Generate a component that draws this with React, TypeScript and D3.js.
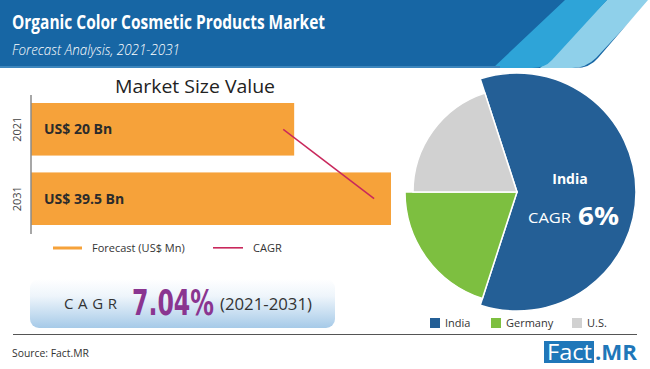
import React, { useEffect, useRef } from "react";
import { select, scaleBand, scaleLinear, pie, arc, line } from "d3";

// market size bars (US$ Bn)
const years = ["2021", "2031"];
const marketValues = [20, 39.5];
const barLabels = ["US$ 20 Bn", "US$ 39.5 Bn"];
const cagrLine = [17.8, 36.1];

// regional split
const regions = ["India", "Germany", "U.S."];
const regionShares = [60, 20, 20];
const regionRadius = [119, 112, 104];
const regionColors = ["#245f96", "#7dbf40", "#d1d1d1"];

const width = 650;
const height = 369;
const font = "'Open Sans', 'Noto Sans', sans-serif";

function App() {
  const svgRef = useRef(null);

  useEffect(() => {
    const svg = select(svgRef.current);
    svg.selectAll("*").remove();

    const defs = svg.append("defs");
    const grad = defs.append("linearGradient")
      .attr("id", "cagrGrad").attr("x1", 0).attr("y1", 0).attr("x2", 0).attr("y2", 1);
    grad.append("stop").attr("offset", "0%").attr("stop-color", "#ffffff");
    grad.append("stop").attr("offset", "35%").attr("stop-color", "#eef5fb");
    grad.append("stop").attr("offset", "100%").attr("stop-color", "#a6cae8");

    // header band
    svg.append("rect").attr("x", 0).attr("y", 0).attr("width", width).attr("height", 68).attr("fill", "#1766a4");
    svg.append("path")
      .attr("d", "M607,0 L650,0 L650,0 L596,58 Q586,68 572,68 L540,68 Z")
      .attr("fill", "#8fd0ea");
    svg.append("path")
      .attr("d", "M565,0 L607,0 L552,60 Q545,68 532,68 L493,68 Z")
      .attr("fill", "#2ea4d8");
    svg.append("path")
      .attr("d", "M650,0 L650,68 L575,68 Q590,68 598,58 L648,0 Z")
      .attr("fill", "#ffffff");
    svg.append("rect").attr("x", 0).attr("y", 66).attr("width", 500).attr("height", 2).attr("fill", "#3d86bd");

    svg.append("text")
      .attr("x", 12).attr("y", 29)
      .attr("font-family", font).attr("font-weight", 700).attr("font-size", 19)
      .attr("fill", "#fff")
      .attr("textLength", 313).attr("lengthAdjust", "spacingAndGlyphs")
      .text("Organic Color Cosmetic Products Market");
    svg.append("text")
      .attr("x", 12).attr("y", 55)
      .attr("font-family", font).attr("font-style", "italic").attr("font-weight", 300).attr("font-size", 14)
      .attr("fill", "#fff")
      .attr("textLength", 168).attr("lengthAdjust", "spacingAndGlyphs")
      .text("Forecast Analysis, 2021-2031");

    // bar chart
    svg.append("text")
      .attr("x", 195).attr("y", 93).attr("text-anchor", "middle")
      .attr("font-family", font).attr("font-size", 18).attr("fill", "#222")
      .attr("textLength", 160).attr("lengthAdjust", "spacingAndGlyphs")
      .text("Market Size Value");

    const yScale = scaleBand().domain(years).range([103, 225]).paddingInner(0.243).paddingOuter(0);
    const xScale = scaleLinear().domain([-33, 39.5]).range([31, 391]);

    svg.append("g").selectAll("rect")
      .data(marketValues)
      .join("rect")
      .attr("x", xScale(-33))
      .attr("y", (d, i) => yScale(years[i]))
      .attr("width", d => xScale(d) - xScale(-33))
      .attr("height", yScale.bandwidth())
      .attr("fill", "#f6a23a");

    svg.append("line")
      .attr("x1", 31).attr("x2", 31).attr("y1", 95).attr("y2", 234)
      .attr("stroke", "#8a8a8a").attr("stroke-width", 1.5);

    svg.append("g").selectAll("text")
      .data(years)
      .join("text")
      .attr("transform", d => `translate(21,${yScale(d) + yScale.bandwidth() / 2}) rotate(-90)`)
      .attr("text-anchor", "middle")
      .attr("font-family", font).attr("font-size", 11).attr("fill", "#444")
      .text(d => d);

    svg.append("g").selectAll("text")
      .data(barLabels)
      .join("text")
      .attr("x", 44)
      .attr("y", (d, i) => yScale(years[i]) + yScale.bandwidth() / 2 + 5)
      .attr("font-family", font).attr("font-weight", 700).attr("font-size", 14).attr("fill", "#2b2b2b")
      .text(d => d);

    const cagrPath = line()
      .x(d => xScale(d[0]))
      .y(d => yScale(d[1]) + yScale.bandwidth() / 2);
    svg.append("path")
      .attr("d", cagrPath(cagrLine.map((v, i) => [v, years[i]])))
      .attr("fill", "none").attr("stroke", "#c9285c").attr("stroke-width", 1.5);

    // legend
    svg.append("rect").attr("x", 53).attr("y", 246.5).attr("width", 29).attr("height", 3).attr("fill", "#f6a23a");
    svg.append("text").attr("x", 92).attr("y", 252)
      .attr("font-family", font).attr("font-size", 11).attr("fill", "#333")
      .text("Forecast (US$ Mn)");
    svg.append("rect").attr("x", 213).attr("y", 247).attr("width", 30).attr("height", 1.6).attr("fill", "#c9285c");
    svg.append("text").attr("x", 253).attr("y", 252)
      .attr("font-family", font).attr("font-size", 11).attr("fill", "#333")
      .text("CAGR");

    // CAGR box
    svg.append("rect")
      .attr("x", 30).attr("y", 279).attr("width", 305).attr("height", 49).attr("rx", 9)
      .attr("fill", "url(#cagrGrad)");
    svg.append("text").attr("x", 64).attr("y", 309)
      .attr("font-family", font).attr("font-size", 15).attr("fill", "#333")
      .attr("textLength", 53).attr("lengthAdjust", "spacing")
      .text("CAGR");
    // condensed big number: squeeze horizontally with a transform
    const big = svg.append("text")
      .attr("x", 0).attr("y", 0)
      .attr("font-family", "'DejaVu Sans Condensed', 'DejaVu Sans', sans-serif").attr("font-weight", 700)
      .attr("font-size", 36).attr("fill", "#8a3590")
      .text("7.04%");
    const bigW = big.node().getComputedTextLength() || 112;
    big.attr("transform", `translate(132,315) scale(${82 / bigW},1)`);
    svg.append("text").attr("x", 220).attr("y", 310)
      .attr("font-family", font).attr("font-size", 17).attr("fill", "#333")
      .attr("textLength", 92).attr("lengthAdjust", "spacingAndGlyphs")
      .text("(2021-2031)");

    // separator + source
    svg.append("line").attr("x1", 13).attr("x2", 637).attr("y1", 334.5).attr("y2", 334.5)
      .attr("stroke", "#555").attr("stroke-width", 1);
    svg.append("text").attr("x", 12).attr("y", 357)
      .attr("font-family", font).attr("font-size", 11).attr("fill", "#333")
      .attr("textLength", 77).attr("lengthAdjust", "spacingAndGlyphs")
      .text("Source: Fact.MR");

    // Fact.MR logo
    svg.append("rect").attr("x", 544).attr("y", 341).attr("width", 50).attr("height", 22).attr("fill", "#1f77b9");
    svg.append("text").attr("x", 547).attr("y", 360)
      .attr("font-family", font).attr("font-size", 21).attr("fill", "#fff")
      .attr("textLength", 45).attr("lengthAdjust", "spacingAndGlyphs")
      .text("Fact");
    svg.append("text").attr("x", 595).attr("y", 360)
      .attr("font-family", font).attr("font-weight", 700).attr("font-size", 21).attr("fill", "#1f77b9")
      .attr("textLength", 42).attr("lengthAdjust", "spacingAndGlyphs")
      .text(".MR");

    // pie
    const startAngle = -18 * Math.PI / 180;
    const pieGen = pie().sort(null).startAngle(startAngle).endAngle(startAngle + 2 * Math.PI);
    const slices = pieGen(regionShares);
    const pieG = svg.append("g").attr("transform", "translate(517,192)");
    pieG.selectAll("path")
      .data(slices)
      .join("path")
      .attr("d", (d, i) => arc().innerRadius(0).outerRadius(regionRadius[i])(d))
      .attr("fill", (d, i) => regionColors[i])
      .attr("stroke", "#fff").attr("stroke-width", 1.5);

    svg.append("text").attr("x", 570).attr("y", 184).attr("text-anchor", "middle")
      .attr("font-family", font).attr("font-weight", 700).attr("font-size", 14).attr("fill", "#fff")
      .text("India");
    svg.append("text").attr("x", 528).attr("y", 223)
      .attr("font-family", font).attr("font-size", 14).attr("fill", "#fff")
      .attr("textLength", 43).attr("lengthAdjust", "spacingAndGlyphs")
      .text("CAGR");
    svg.append("text").attr("x", 578).attr("y", 225)
      .attr("font-family", font).attr("font-weight", 700).attr("font-size", 25).attr("fill", "#fff")
      .attr("textLength", 41).attr("lengthAdjust", "spacingAndGlyphs")
      .text("6%");

    // pie legend
    const legendX = [430, 491, 572];
    const lg = svg.append("g");
    lg.selectAll("rect")
      .data(regions)
      .join("rect")
      .attr("x", (d, i) => legendX[i]).attr("y", 318)
      .attr("width", 10).attr("height", 10)
      .attr("fill", (d, i) => regionColors[i]);
    lg.selectAll("text")
      .data(regions)
      .join("text")
      .attr("x", (d, i) => legendX[i] + 15).attr("y", 327)
      .attr("font-family", font).attr("font-size", 11).attr("fill", "#333")
      .text(d => d);
  }, []);

  return (
    <svg
      ref={svgRef}
      width={width}
      height={height}
      style={{ position: "absolute", left: 0, top: 0, background: "#fff" }}
    />
  );
}

export default App;
